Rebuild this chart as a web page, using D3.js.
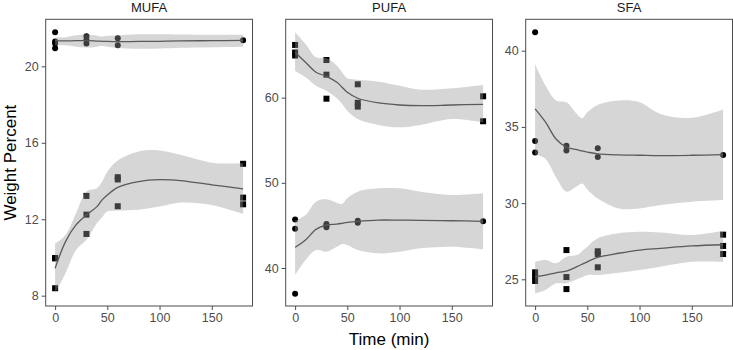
<!DOCTYPE html>
<html>
<head>
<meta charset="utf-8">
<script src="https://cdn.jsdelivr.net/npm/d3@7"></script>
<style>
  body { margin: 0; background: #fff; }
  text { font-family: "Liberation Sans", Arial, sans-serif; }
</style>
</head>
<body>
<div id="chart"></div>
<script>
// fatty acid classes (facets)
const facets = ["MUFA", "PUFA", "SFA"];
const xTicks = [0, 50, 100, 150];
const yTicksMUFA = [8, 12, 16, 20];
const yTicksPUFA = [40, 50, 60];
const yTicksSFA = [25, 30, 35, 40];

// raw replicates: [time, value]
const mufaCircles = [[0, 21.78], [0, 21.30], [0, 21.20], [0, 20.95], [30, 21.57], [30, 21.39], [30, 21.20], [60, 21.47], [60, 21.10], [180, 21.36]];
const mufaSquares = [[0, 9.97], [0, 9.95], [0, 8.39], [30, 13.22], [30, 12.24], [30, 11.23], [60, 14.20], [60, 14.08], [60, 12.68], [180, 14.90], [180, 13.13], [180, 12.78]];
const pufaSquares = [[0, 66.19], [0, 65.30], [0, 64.95], [30, 64.42], [30, 62.70], [30, 59.88], [60, 61.57], [60, 59.40], [60, 58.95], [180, 60.16], [180, 57.23]];
const pufaCircles = [[0, 45.71], [0, 44.62], [0, 36.98], [30, 45.16], [30, 44.95], [30, 44.78], [60, 45.55], [60, 45.32], [180, 45.48]];
const sfaCircles = [[0, 41.21], [0, 34.08], [0, 33.32], [30, 33.77], [30, 33.45], [60, 33.60], [60, 33.03], [180, 33.16]];
const sfaSquares = [[0, 25.46], [0, 25.17], [0, 24.89], [30, 26.92], [30, 25.15], [30, 24.36], [60, 26.84], [60, 26.66], [60, 25.79], [180, 27.93], [180, 27.19], [180, 26.66]];

// smoother at these times
const fitTimes = [0, 10, 20, 30, 40, 45, 50, 60, 80, 100, 120, 150, 180];

const mufaTopFit   = [21.33, 21.33, 21.34, 21.34, 21.32, 21.31, 21.30, 21.29, 21.30, 21.31, 21.33, 21.34, 21.36];
const mufaTopUpper = [21.50, 21.52, 21.62, 21.68, 21.60, 21.56, 21.60, 21.63, 21.68, 21.68, 21.67, 21.65, 21.65];
const mufaTopLower = [21.10, 21.10, 21.03, 20.98, 21.03, 21.08, 21.02, 20.96, 20.92, 20.93, 20.97, 21.00, 21.03];

const mufaBotFit   = [9.43, 10.83, 11.70, 12.22, 12.66, 13.01, 13.27, 13.67, 13.97, 14.07, 14.02, 13.80, 13.59];
const mufaBotUpper = [10.74, 11.18, 12.31, 13.45, 13.62, 13.97, 14.49, 15.07, 15.54, 15.60, 15.37, 14.96, 14.93];
const mufaBotLower = [8.12, 9.17, 10.39, 10.92, 11.79, 12.10, 12.40, 12.45, 12.50, 12.66, 12.87, 12.75, 12.28];

const pufaTopFit   = [65.33, 64.15, 62.98, 62.50, 61.80, 61.22, 60.63, 59.93, 59.38, 59.14, 59.06, 59.14, 59.22];
const pufaTopUpper = [67.68, 66.30, 64.74, 64.62, 63.76, 62.98, 62.28, 62.11, 61.88, 61.41, 60.94, 61.10, 61.49];
const pufaTopLower = [63.17, 62.39, 61.41, 60.82, 59.93, 59.26, 58.47, 57.50, 56.80, 56.52, 56.80, 57.50, 57.10];

const pufaBotFit   = [42.43, 43.29, 44.54, 45.05, 45.16, 45.25, 45.35, 45.48, 45.63, 45.62, 45.60, 45.55, 45.48];
const pufaBotUpper = [45.55, 46.22, 47.79, 48.06, 47.67, 47.51, 48.18, 48.96, 49.35, 49.35, 48.96, 48.57, 48.77];
const pufaBotLower = [39.18, 40.94, 42.11, 41.91, 42.50, 42.82, 42.70, 42.11, 41.72, 41.91, 42.31, 42.50, 42.19];

const sfaTopFit   = [36.18, 35.31, 34.21, 33.67, 33.51, 33.42, 33.35, 33.23, 33.16, 33.14, 33.12, 33.14, 33.18];
const sfaTopUpper = [39.13, 37.71, 36.73, 36.62, 35.85, 35.57, 35.96, 36.44, 36.73, 36.62, 35.85, 35.60, 36.14];
const sfaTopLower = [33.20, 32.90, 31.70, 30.75, 31.10, 31.29, 30.90, 30.30, 29.65, 29.65, 29.87, 30.09, 30.20];

const sfaBotFit   = [25.17, 25.28, 25.43, 25.54, 25.83, 25.99, 26.15, 26.44, 26.71, 26.92, 27.03, 27.19, 27.27];
const sfaBotUpper = [26.15, 26.27, 26.05, 26.48, 26.59, 26.85, 27.14, 27.69, 28.02, 28.12, 28.08, 27.91, 28.19];
const sfaBotLower = [24.08, 24.30, 24.74, 24.74, 25.00, 25.14, 25.28, 25.28, 25.43, 25.61, 25.83, 26.15, 26.15];

// panel setup
const width = 733, height = 350;
const panelTop = 19.3, panelBottom = 306;
const panelW = 206.8;
const panelLefts = [45.7, 285.7, 525.7];

const panels = [
  { name: facets[0], yDomain: [7.46, 22.46], yTicks: yTicksMUFA,
    groups: [
      { pts: mufaCircles, shape: "circle", fit: mufaTopFit, lo: mufaTopLower, hi: mufaTopUpper },
      { pts: mufaSquares, shape: "square", fit: mufaBotFit, lo: mufaBotLower, hi: mufaBotUpper }
    ] },
  { name: facets[1], yDomain: [35.54, 69.2], yTicks: yTicksPUFA,
    groups: [
      { pts: pufaSquares, shape: "square", fit: pufaTopFit, lo: pufaTopLower, hi: pufaTopUpper },
      { pts: pufaCircles, shape: "circle", fit: pufaBotFit, lo: pufaBotLower, hi: pufaBotUpper }
    ] },
  { name: facets[2], yDomain: [23.25, 42.06], yTicks: yTicksSFA,
    groups: [
      { pts: sfaCircles, shape: "circle", fit: sfaTopFit, lo: sfaTopLower, hi: sfaTopUpper },
      { pts: sfaSquares, shape: "square", fit: sfaBotFit, lo: sfaBotLower, hi: sfaBotUpper }
    ] }
];

const svg = d3.select("#chart").append("svg")
  .attr("width", width)
  .attr("height", height);

panels.forEach((p, i) => {
  const left = panelLefts[i];
  const x = d3.scaleLinear().domain([-9, 189]).range([left, left + panelW]);
  const y = d3.scaleLinear().domain(p.yDomain).range([panelBottom, panelTop]);

  const clipId = "clip" + i;
  svg.append("clipPath").attr("id", clipId)
    .append("rect")
    .attr("x", left).attr("y", panelTop)
    .attr("width", panelW).attr("height", panelBottom - panelTop);

  const g = svg.append("g").attr("clip-path", `url(#${clipId})`);

  // points first, the ribbon sits on top of them
  p.groups.forEach(grp => {
    if (grp.shape === "circle") {
      g.selectAll(null).data(grp.pts).enter().append("circle")
        .attr("cx", d => x(d[0]))
        .attr("cy", d => y(d[1]))
        .attr("r", 3)
        .attr("fill", "#000");
    } else {
      g.selectAll(null).data(grp.pts).enter().append("rect")
        .attr("x", d => x(d[0]) - 3)
        .attr("y", d => y(d[1]) - 3)
        .attr("width", 6)
        .attr("height", 6)
        .attr("fill", "#000");
    }
  });

  p.groups.forEach(grp => {
    const band = fitTimes.map((t, k) => ({ t, fit: grp.fit[k], lo: grp.lo[k], hi: grp.hi[k] }));
    const area = d3.area()
      .x(d => x(d.t))
      .y0(d => y(d.lo))
      .y1(d => y(d.hi))
      .curve(d3.curveCatmullRom.alpha(0.5));
    g.append("path")
      .datum(band)
      .attr("d", area)
      .attr("fill", "#999999")
      .attr("fill-opacity", 0.4);

    const line = d3.line()
      .x(d => x(d.t))
      .y(d => y(d.fit))
      .curve(d3.curveCatmullRom.alpha(0.5));
    g.append("path")
      .datum(band)
      .attr("d", line)
      .attr("fill", "none")
      .attr("stroke", "#5a5a5a")
      .attr("stroke-width", 1.3);
  });

  // panel border
  svg.append("rect")
    .attr("x", left).attr("y", panelTop)
    .attr("width", panelW).attr("height", panelBottom - panelTop)
    .attr("fill", "none")
    .attr("stroke", "#4d4d4d")
    .attr("stroke-width", 1);

  // axes
  const xAxis = svg.append("g")
    .attr("transform", `translate(0,${panelBottom})`)
    .call(d3.axisBottom(x).tickValues(xTicks).tickSize(4).tickPadding(3));
  const yAxis = svg.append("g")
    .attr("transform", `translate(${left},0)`)
    .call(d3.axisLeft(y).tickValues(p.yTicks).tickSize(4).tickPadding(3));

  [xAxis, yAxis].forEach(a => {
    a.select(".domain").remove();
    a.selectAll(".tick line").attr("stroke", "#4d4d4d");
    a.selectAll(".tick text")
      .attr("fill", "#4d4d4d")
      .style("font-size", "12.5px")
      .style("font-family", "Liberation Sans, Arial, sans-serif");
  });

  // strip label
  svg.append("text")
    .attr("x", left + panelW / 2)
    .attr("y", 12)
    .attr("text-anchor", "middle")
    .style("font-size", "13px")
    .attr("fill", "#1a1a1a")
    .text(p.name);
});

svg.append("text")
  .attr("x", panelLefts[1] + panelW / 2)
  .attr("y", 345)
  .attr("text-anchor", "middle")
  .style("font-size", "17px")
  .attr("fill", "#000")
  .text("Time (min)");

svg.append("text")
  .attr("transform", `translate(16,${(panelTop + panelBottom) / 2}) rotate(-90)`)
  .attr("text-anchor", "middle")
  .style("font-size", "17px")
  .attr("fill", "#000")
  .text("Weight Percent");
</script>
</body>
</html>
